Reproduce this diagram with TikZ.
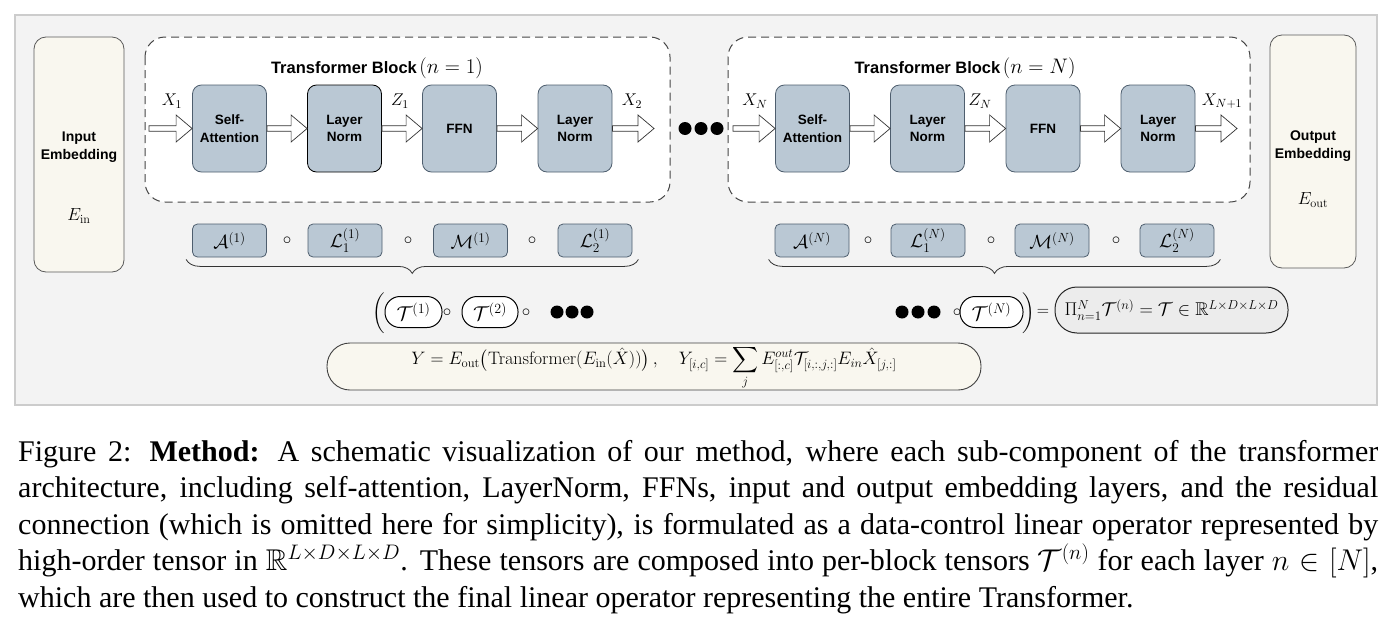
\RequirePackage{fix-cm}
\documentclass[tikz,border=0pt]{standalone}
\usepackage{amsmath,amssymb}
\usepackage[no-math]{fontspec}
\setmainfont{Liberation Serif}
\newfontfamily\sansfam{Liberation Sans}
\usetikzlibrary{calc,decorations.pathreplacing}
\definecolor{bluefill}{RGB}{186,200,212}
\definecolor{blueedge}{RGB}{78,94,110}
\definecolor{creamfill}{RGB}{249,247,239}
\definecolor{embedge}{RGB}{90,90,90}
\definecolor{bgfill}{RGB}{243,243,243}
\definecolor{framec}{RGB}{110,110,110}
\definecolor{grayfill}{RGB}{236,236,236}
\definecolor{dashc}{RGB}{70,70,70}
\tikzset{
 blk/.style={draw=blueedge, fill=bluefill, rounded corners=9pt, minimum width=74pt, minimum height=87pt, inner sep=0pt, align=center, line width=0.8pt, font=\sansfam\bfseries\fontsize{13.5}{17.5}\selectfont},
 sbox/.style={draw=blueedge, fill=bluefill, rounded corners=5pt, minimum width=74pt, minimum height=33pt, inner sep=0pt, line width=0.8pt, font=\fontsize{19}{21}\selectfont},
 emb/.style={draw=embedge, fill=creamfill, rounded corners=12pt, line width=0.8pt},
 embtxt/.style={align=center, inner sep=0pt, font=\sansfam\bfseries\fontsize{14}{18}\selectfont},
 dashblk/.style={draw=dashc, dash pattern=on 8pt off 5pt, fill=white, rounded corners=20pt, line width=1pt},
 barr/.style={draw=black!80, fill=white, line width=0.7pt, line join=miter},
 pill/.style={draw=black, fill=white, rounded corners=15pt, minimum height=31pt, inner sep=0pt, line width=1pt, font=\fontsize{20}{22}\selectfont},
 mlab/.style={font=\fontsize{17}{19}\selectfont, inner sep=0pt},
 dotc/.style={circle, fill=black, minimum size=13pt, inner sep=0pt},
 comp/.style={font=\fontsize{17}{19}\selectfont, inner sep=0pt},
 ttl/.style={inner sep=0pt},
 brc/.style={decorate, decoration={brace, mirror, amplitude=14pt}, draw=black!80, line width=0.8pt},
}
\newcommand{\barrow}[2]{\draw[barr] let \p1=(#1), \p2=(#2) in
  (\x1,\y1+2.8) -- (\x2-16,\y1+2.8) -- (\x2-16,\y1+13.5) -- (\x2,\y1) -- (\x2-16,\y1-13.5) -- (\x2-16,\y1-2.8) -- (\x1,\y1-2.8) -- cycle;}
\newcommand{\ttltext}[1]{{\sansfam\bfseries\fontsize{16.5}{19}\selectfont Transformer Block}\ {\fontsize{21}{23}\selectfont$(n=#1)$}}
\begin{document}
\begin{tikzpicture}[x=1pt,y=-1pt]
\useasboundingbox (0,0) rectangle (1396,629);
% outer frame
\draw[framec, line width=0.7pt, double=framec!35, double distance=1.2pt, fill=bgfill] (15,15) rectangle (1377,405);
% embeddings
\node[emb, minimum width=90pt, minimum height=235pt] (inemb) at (79,154.5) {};
\node[embtxt] (intxt) at (79,147) {Input\\Embedding};
\node[mlab, font=\fontsize{17.5}{19}\selectfont] (ein) at (79,216) {$E_{\mathrm{in}}$};
\node[emb, minimum width=86pt, minimum height=233pt] (outemb) at (1313,151.5) {};
\node[embtxt] (outtxt) at (1313,146) {Output\\Embedding};
\node[mlab, font=\fontsize{17.5}{19}\selectfont] (eout) at (1313,200) {$E_{\mathrm{out}}$};
% dashed blocks
\draw[dashblk] (145,37) rectangle (670,202);
\draw[dashblk] (728,37) rectangle (1250,202);
\node[ttl] (t1) at (377,68) {\ttltext{1}};
\node[ttl] (t2) at (965,68) {\ttltext{N}};
% block 1
\node[blk] (sa1) at (229.5,128.5) {Self-\\Attention};
\node[blk, draw=black] (ln1) at (344.5,128.5) {Layer\\Norm};
\node[blk] (ff1) at (459.5,128.5) {FFN};
\node[blk] (lm1) at (575,128.5) {Layer\\Norm};
\coordinate (a0) at (149,128.5);
\coordinate (a5) at (654,128.5);
\barrow{a0}{sa1.west}
\barrow{sa1.east}{ln1.west}
\barrow{ln1.east}{ff1.west}
\barrow{ff1.east}{lm1.west}
\barrow{lm1.east}{a5}
\node[mlab] (x1) at (172,101) {$X_1$};
\node[mlab] (z1) at (400,101) {$Z_1$};
\node[mlab] (x2) at (632,101) {$X_2$};
% dots between
\node[dotc] (d1) at (685,128.5) {};
\node[dotc] (d2) at (701,128.5) {};
\node[dotc] (d3) at (717,128.5) {};
% block N
\node[blk] (sa2) at (812.5,128.5) {Self-\\Attention};
\node[blk] (ln2) at (927.5,128.5) {Layer\\Norm};
\node[blk] (ff2) at (1043,128.5) {FFN};
\node[blk] (lm2) at (1158,128.5) {Layer\\Norm};
\coordinate (b0) at (733,128.5);
\coordinate (b5) at (1237,128.5);
\barrow{b0}{sa2.west}
\barrow{sa2.east}{ln2.west}
\barrow{ln2.east}{ff2.west}
\barrow{ff2.east}{lm2.west}
\barrow{lm2.east}{b5}
\node[mlab] (xn) at (755,101) {$X_N$};
\node[mlab] (zn) at (980,101) {$Z_N$};
\node[mlab] (xn1) at (1222,101) {$X_{N+1}$};
% decomposition rows
\node[sbox] (ra1) at (229.5,240.5) {$\mathcal{A}^{(1)}$};
\node[comp] (rc1) at (287,241) {$\circ$};
\node[sbox] (rb1) at (345,240.5) {$\mathcal{L}_1^{(1)}$};
\node[comp] (rc2) at (408,241) {$\circ$};
\node[sbox] (rm1) at (470.5,240.5) {$\mathcal{M}^{(1)}$};
\node[comp] (rc3) at (532,241) {$\circ$};
\node[sbox] (rd1) at (595,240.5) {$\mathcal{L}_2^{(1)}$};
\node[sbox] (ra2) at (812,240.5) {$\mathcal{A}^{(N)}$};
\node[comp] (sc1) at (868,241) {$\circ$};
\node[sbox] (rb2) at (928,240.5) {$\mathcal{L}_1^{(N)}$};
\node[comp] (sc2) at (991,241) {$\circ$};
\node[sbox] (rm2) at (1052,240.5) {$\mathcal{M}^{(N)}$};
\node[comp] (sc3) at (1116,241) {$\circ$};
\node[sbox] (rd2) at (1177,240.5) {$\mathcal{L}_2^{(N)}$};
\draw[brc] ($(ra1.south west)+(-6,2)$) -- ($(rd1.south east)+(6,2)$);
\draw[brc] ($(ra2.south west)+(-6,2)$) -- ($(rd2.south east)+(6,2)$);
% tensor composition row
\node[mlab] (lp) at (379,313) {$\left(\vrule height 14pt depth 14pt width 0pt\right.$};
\node[pill, minimum width=57pt] (T1) at (413.5,312) {$\mathcal{T}^{(1)}$};
\node[comp] (tc1) at (447,313) {$\circ$};
\node[pill, minimum width=56pt] (T2) at (490,312) {$\mathcal{T}^{(2)}$};
\node[comp] (tc2) at (526,313) {$\circ$};
\node[dotc] (e1) at (557,312) {};
\node[dotc] (e2) at (572,312) {};
\node[dotc] (e3) at (587,312) {};
\node[dotc] (f1) at (902,312) {};
\node[dotc] (f2) at (918,312) {};
\node[dotc] (f3) at (934,312) {};
\node[comp] (tc3) at (957,313) {$\circ$};
\node[pill, minimum width=63pt] (TN) at (991.5,312) {$\mathcal{T}^{(N)}$};
\node[mlab] (rp) at (1028,313) {$\left.\vrule height 14pt depth 14pt width 0pt\right)$};
\node[comp] (eq) at (1043,312) {$=$};
\node[draw=black!85, fill=grayfill, rounded corners=22pt, minimum width=233pt, minimum height=46pt, inner sep=0pt, line width=1pt, font=\fontsize{18.5}{20}\selectfont] (prod) at (1171.5,310) {$\Pi_{n=1}^{N}\mathcal{T}^{(n)} = \mathcal{T}\in\mathbb{R}^{L\times D\times L\times D}$};
% final formula
\node[draw=black!75, fill=creamfill, rounded corners=23pt, minimum width=654pt, minimum height=47pt, inner sep=0pt, line width=0.9pt] (fbox) at (654,366.5) {};
\node[inner sep=0pt, font=\fontsize{18}{20}\selectfont] (form) at (654,368) {$\displaystyle Y = E_{\mathrm{out}}\bigl(\mathrm{Transformer}(E_{\mathrm{in}}(\hat{X}))\bigr)\,,\quad Y_{[i,c]} = \sum_j E^{out}_{[:,c]}\mathcal{T}_{[i,:,j,:]}E_{in}\hat{X}_{[j,:]}$};
% caption
\node[anchor=north west, inner sep=0pt, text width=1360pt, align=justify, font=\fontsize{30}{36.5}\selectfont] (cap) at (18,440) {\hyphenpenalty=10000 Figure 2: \textbf{Method:} A schematic visualization of our method, where each sub-component of the transformer\linebreak architecture, including self-attention, LayerNorm, FFNs, input and output embedding layers, and the residual\linebreak connection (which is omitted here for simplicity), is formulated as a data-control linear operator represented by\linebreak high-order tensor in $\mathbb{R}^{L\times D\times L\times D}$. These tensors are composed into per-block tensors $\mathcal{T}^{(n)}$ for each layer $n\in[N]$,\linebreak which are then used to construct the final linear operator representing the entire Transformer.};
\end{tikzpicture}
\end{document}
